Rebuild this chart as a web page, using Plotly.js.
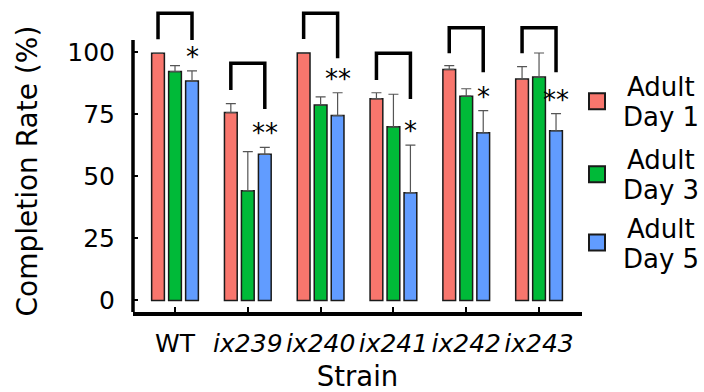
<!DOCTYPE html>
<html>
<head>
<meta charset="utf-8">
<script src="https://cdn.plot.ly/plotly-3.0.1.min.js"></script>
<style>html,body{margin:0;padding:0;background:#fff;}#chart{width:704px;height:392px;}</style>
</head>
<body>
<div id="chart"></div>
<script>
// ---- data ----
const strains = ['WT', 'ix239', 'ix240', 'ix241', 'ix242', 'ix243'];
const strainLabels = ['WT', '<i>ix239</i>', '<i>ix240</i>', '<i>ix241</i>', '<i>ix242</i>', '<i>ix243</i>'];
const seriesLine1 = ['Adult', 'Adult', 'Adult'];
const seriesLine2 = ['Day 1', 'Day 3', 'Day 5'];
const day1 = [99.5, 75.6, 99.6, 81.2, 93.0, 89.1];
const day1Err = [0, 3.6, 0, 2.4, 1.5, 5.0];
const day3 = [92.1, 44.2, 78.7, 69.9, 82.2, 89.9];
const day3Err = [2.4, 15.7, 3.2, 13.1, 3.0, 9.7];
const day5 = [88.3, 58.8, 74.4, 43.4, 67.5, 68.3];
const day5Err = [4.1, 2.8, 9.2, 19.1, 8.9, 6.9];
const sigLabels = ['*', '**', '**', '*', '*', '**'];
const bracketTop = [115.6, 95.5, 115.6, 99.5, 109.8, 109.8];
const bracketLeftEnd = [105.1, 84.7, 105.2, 88.7, 99.5, 99.5];
const bracketRightEnd = [104.8, 77.1, 97.5, 81.1, 91.8, 91.8];
const yTicks = [0, 25, 50, 75, 100];
const yTitle = 'Completion Rate (%)';
const xTitle = 'Strain';

const colors = ['#F8766D', '#00BA38', '#619CFF'];
const FONT = 'DejaVu Sans, Verdana, sans-serif';
const bargap = 0.3;
const slot = (1 - bargap) / 3;

const vals = [day1, day3, day5];
const errs = [day1Err, day3Err, day5Err];
const idx = strains.map((s, i) => i);

const traces = vals.map((v, k) => ({
  type: 'bar',
  name: seriesLine1[k] + ' ' + seriesLine2[k],
  x: idx,
  y: v,
  marker: {color: colors[k], line: {color: '#1a1a1a', width: 1.5}},
  error_y: {type: 'data', symmetric: false, array: errs[k], arrayminus: v.map(() => 0),
            color: '#555555', thickness: 1.2, width: 5},
  showlegend: false,
  hoverinfo: 'x+y'
}));

const shapes = [];
idx.forEach(i => {
  const xl = i - slot, xr = i + slot;
  shapes.push({
    type: 'path', xref: 'x', yref: 'y',
    path: `M ${xl},${bracketLeftEnd[i]} L ${xl},${bracketTop[i]} L ${xr},${bracketTop[i]} L ${xr},${bracketRightEnd[i]}`,
    line: {color: 'black', width: 3.5}
  });
});
// y-axis line (spans 0..~105 like the reference)
shapes.push({type: 'line', xref: 'paper', yref: 'y', x0: 0, x1: 0, y0: -4.63, y1: 104.8,
             line: {color: 'black', width: 3.5}});

const H = 392, T = 8, B = 80, PH = H - T - B;
const W = 704, L = 133, R = 122, PW = W - L - R;
const px2py = p => (H - B - p) / PH;
const px2px = p => (p - L) / PW;
const annotations = [];

// legend (custom, centred two-line labels)
const legendY = [101.3, 174.2, 242.5]; // pixel centres
legendY.forEach((cy, k) => {
  shapes.push({type: 'rect', xref: 'paper', yref: 'paper',
    x0: px2px(589), x1: px2px(605), y0: px2py(cy + 8), y1: px2py(cy - 8),
    fillcolor: colors[k], line: {color: '#1a1a1a', width: 2}});
  annotations.push({xref: 'paper', yref: 'paper', x: px2px(661), y: px2py(cy - 14),
    text: seriesLine1[k], showarrow: false, xanchor: 'center', yanchor: 'middle',
    font: {family: FONT, size: 26, color: 'black'}});
  annotations.push({xref: 'paper', yref: 'paper', x: px2px(661), y: px2py(cy + 16),
    text: seriesLine2[k], showarrow: false, xanchor: 'center', yanchor: 'middle',
    font: {family: FONT, size: 26, color: 'black'}});
});

// y-axis title (placed to match the reference's vertical centring)
annotations.push({xref: 'paper', yref: 'paper', x: px2px(27), y: px2py(171.5),
  text: yTitle, textangle: -90, showarrow: false, xanchor: 'center', yanchor: 'middle',
  font: {family: FONT, size: 28, color: 'black'}});

idx.forEach(i => {
  annotations.push({xref: 'x', yref: 'y', x: i + slot, y: day5[i] + day5Err[i],
    text: sigLabels[i], showarrow: false, xanchor: 'center', yanchor: 'bottom', yshift: -3,
    font: {family: FONT, size: 26, color: 'black'}});
});

const layout = {
  width: 704, height: 392,
  margin: {l: L, r: R, t: T, b: B, pad: 0},
  paper_bgcolor: 'white', plot_bgcolor: 'white',
  font: {family: FONT, color: 'black'},
  barmode: 'group', bargap: bargap, bargroupgap: 0.25,
  showlegend: false,
  xaxis: {
    type: 'linear', range: [-0.577, 5.59],
    tickvals: idx, ticktext: strainLabels,
    showgrid: false, zeroline: false,
    showline: true, linecolor: 'black', linewidth: 3.5,
    ticks: 'inside', ticklen: 5, tickwidth: 2, tickcolor: 'black',
    tickfont: {family: FONT, size: 25, color: 'black'},
    ticklabelstandoff: 6,
    title: {text: '\u00A0\u00A0' + xTitle, font: {family: FONT, size: 27.5, color: 'black'}, standoff: 12}
  },
  yaxis: {
    range: [-4.63, 117.7],
    tickvals: yTicks, ticktext: yTicks.map(String),
    showgrid: false, zeroline: false, showline: false,
    ticks: 'inside', ticklen: 5, tickwidth: 2, tickcolor: 'black',
    tickfont: {family: FONT, size: 25, color: 'black'},
    ticklabelstandoff: 17
  },
  shapes: shapes,
  annotations: annotations
};

Plotly.newPlot('chart', traces, layout, {displayModeBar: false, staticPlot: true});
</script>
</body>
</html>
